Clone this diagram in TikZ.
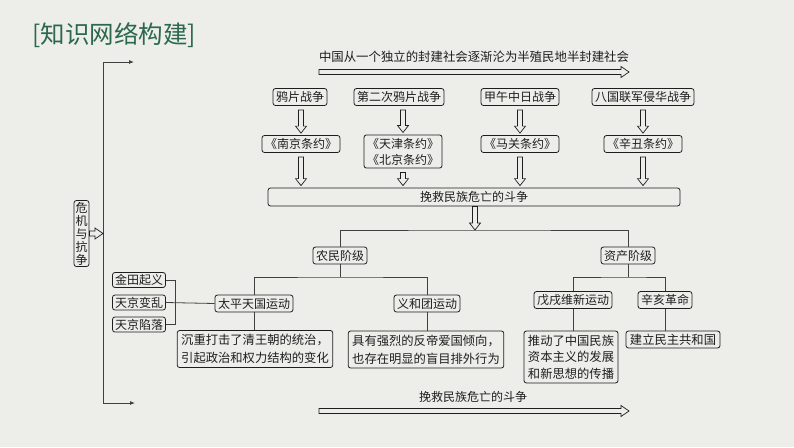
\documentclass[tikz,border=0pt]{standalone}
\usepackage{fontspec}
\setmainfont{Noto Sans CJK SC}
\usepackage{tikz}
\usetikzlibrary{calc,arrows.meta,positioning}
\usepackage{xcolor}

\definecolor{paper}{RGB}{237,237,234}
\definecolor{titlegreen}{RGB}{44,104,76}
\definecolor{ink}{RGB}{30,30,30}

\tikzset{
  box/.style={draw=ink, rounded corners=2.5pt, line width=0.8pt, inner xsep=3pt, inner ysep=1pt,
    minimum height=17pt, text=ink, font=\fontsize{12}{15}\selectfont},
  small/.style={box, minimum height=15pt, inner xsep=2.5pt},
  desc/.style={box, align=center, inner xsep=4pt, inner ysep=3.8pt, font=\fontsize{12.3}{18}\selectfont},
  link/.style={draw=ink!85, line width=0.8pt},
  hollow/.style={draw=ink, line width=0.7pt, line join=miter}
}

% hollow block arrows (down / right)
\newcommand{\hdown}[2]{\draw[hollow] let \p1=#1, \p2=#2 in
  (\x2-2.5pt,\y1) -- (\x2-2.5pt,\y2+7pt) -- (\x2-5.5pt,\y2+7pt) -- (\x2,\y2)
  -- (\x2+5.5pt,\y2+7pt) -- (\x2+2.5pt,\y2+7pt) -- (\x2+2.5pt,\y1) -- cycle;}
\newcommand{\hright}[2]{\draw[hollow] let \p1=#1, \p2=#2 in
  (\x1,\y2+2.5pt) -- (\x2-8pt,\y2+2.5pt) -- (\x2-8pt,\y2+5.5pt) -- (\x2,\y2)
  -- (\x2-8pt,\y2-5.5pt) -- (\x2-8pt,\y2-2.5pt) -- (\x1,\y2-2.5pt) -- cycle;}

\begin{document}
\begin{tikzpicture}[x=1pt, y=-1pt]
    % Fond
    \fill[paper] (0,0) rectangle (794,447);
    \useasboundingbox (0,0) rectangle (794,447);

    % Titre
    \node[text=titlegreen, font=\fontsize{24.5}{26}\selectfont] (title) at (114,35) {[知识网络构建]};

    % Accolade de gauche
    \coordinate (lc) at (103,62);
    \coordinate (lt) at (134,62);
    \coordinate (lb) at (135,403);
    \draw[link, {Latex[length=5pt,width=4pt]}-{Latex[length=5pt,width=4pt]}] (lt) -- (lc) |- (lb);
    \node[box, align=center, inner sep=1.5pt, font=\fontsize{12}{13}\selectfont] (wj) at (81.5,233.5) {危\\机\\与\\抗\\争};
    \hright{(wj.east)}{(wj.east -| lc)}

    % Fleche du haut
    \node[text=ink, font=\fontsize{12.4}{14}\selectfont] (toptxt) at (474,57) {中国从一个独立的封建社会逐渐沦为半殖民地半封建社会};
    \coordinate (ts) at (319,72);
    \coordinate (te) at (629,72);
    \hright{(ts)}{(te)}

    % Guerres et traites
    \foreach \name/\x/\txt in {n1/300/鸦片战争, n2/399/第二次鸦片战争, n3/520/甲午中日战争, n4/643/八国联军侵华战争} {
        \node[box] (\name) at (\x,97) {\txt};
    }
    \foreach \name/\x/\txt in {t1/301/《南京条约》, t3/520/《马关条约》, t4/643/《辛丑条约》} {
        \node[box] (\name) at (\x,144) {\txt};
    }
    \node[box, align=center, inner ysep=3pt, font=\fontsize{12}{16}\selectfont] (t2) at (403,151.5) {《天津条约》\\《北京条约》};
    \node[box, minimum width=412pt, minimum height=18pt] (fight) at (474,197) {挽救民族危亡的斗争};

    \foreach \a/\b in {n1/t1, n2/t2, n3/t3, n4/t4} {
        \hdown{($(\a.south)+(0,4)$)}{($(\b.north)+(0,-2)$)}
        \hdown{($(\b.south)+(0,4)$)}{($(\b.south |- fight.north)+(0,-2)$)}
    }

    % Classes
    \coordinate (split) at (475,230);
    \hdown{(fight.south)}{(split)}
    \node[box] (nm) at (340,255.5) {农民阶级};
    \node[box] (zc) at (628,255.5) {资产阶级};
    \draw[link] (nm.north) |- (split) -| (zc.north);

    % Paysans
    \coordinate (nmsplit) at (340,277);
    \node[box] (tp) at (254,303.5) {太平天国运动};
    \node[box] (yh) at (427,303.5) {义和团运动};
    \draw[link] (nm.south) -- (nmsplit);
    \draw[link] (tp.north) |- (nmsplit) -| (yh.north);
    \node[desc] (tpd) at (255,349) {沉重打击了清王朝的统治，\\引起政治和权力结构的变化};
    \node[desc] (yhd) at (426,349.5) {具有强烈的反帝爱国倾向，\\也存在明显的盲目排外行为};
    \draw[link] (tp.south) -- (tp.south |- tpd.north);
    \draw[link] (yh.south) -- (yh.south |- yhd.north);

    % Taiping
    \node[small] (jt) at (139,280) {金田起义};
    \node[small] (tb) at (139,302.5) {天京变乱};
    \node[small] (tx) at (139,324.5) {天京陷落};
    \draw[link] (jt.east) -- ++(9,0) |- (tx.east);
    \draw[link] (tb.east) -- (tp.west);

    % Bourgeoisie
    \coordinate (zcsplit) at (628,277);
    \node[box] (wx) at (573,300) {戊戌维新运动};
    \node[box] (xh) at (665,300) {辛亥革命};
    \draw[link] (zc.south) -- (zcsplit);
    \draw[link] (wx.north) |- (zcsplit) -| (xh.north);
    \node[desc, font=\fontsize{12.3}{16.5}\selectfont] (wxd) at (571,357) {推动了中国民族\\资本主义的发展\\和新思想的传播};
    \node[desc, inner ysep=2pt] (xhd) at (673,339.5) {建立民主共和国};
    \draw[link] (wx.south) -- (wx.south |- wxd.north);
    \draw[link] (xh.south) -- (xh.south |- xhd.north);

    % Fleche du bas
    \node[text=ink, font=\fontsize{12}{14}\selectfont] (bottxt) at (473,397) {挽救民族危亡的斗争};
    \coordinate (bs) at (319,411);
    \coordinate (be) at (629,411);
    \hright{(bs)}{(be)}
\end{tikzpicture}
\end{document}
